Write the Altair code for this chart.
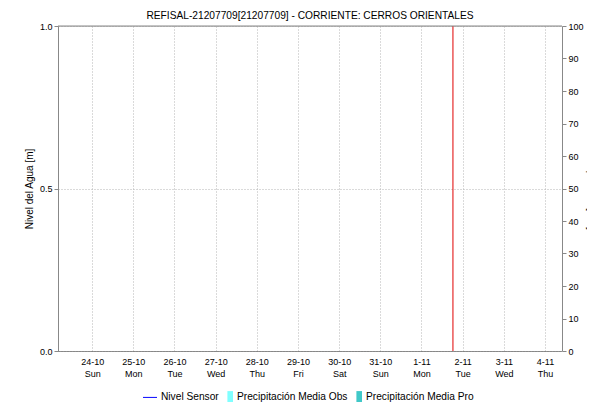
import altair as alt
import pandas as pd

# ---- data ----
title_text = "REFISAL-21207709[21207709] - CORRIENTE: CERROS ORIENTALES"
x_start = "2021-10-23T07:00:00"
x_end = "2021-11-04T07:00:00"
nivel_dates = []          # no sensor readings in the window
nivel_values = []
precip_dates = []
precip_obs = []
precip_pro = []
now_marker = ["2021-11-01T18:20:00"]
series = ["Nivel Sensor", "Precipitación Media Obs", "Precipitación Media Pro"]
series_colors = ["#0000FF", "#80FFFF", "#40C8C8"]
series_shapes = ["M-1,-0.07H1V0.07H-1Z", "M0.2,-0.85H1V0.85H0.2Z", "M0.2,-0.85H1V0.85H0.2Z"]
left_ticks = [0.0, 0.5, 1.0]
right_ticks = list(range(0, 101, 10))

FONT = "Liberation Sans"
W, H = 504, 325
GRID = "#b4b4b4"

xscale = alt.Scale(domain=[x_start, x_end])
x_enc = alt.X(
    "t:T", scale=xscale, title=None,
    axis=alt.Axis(
        orient="bottom", tickCount={"interval": "day", "step": 1},
        labelExpr="[timeFormat(datum.value, '%-d-%m'), timeFormat(datum.value, '%a')]",
        labelFont=FONT, labelFontSize=9, labelColor="#000", labelLineHeight=12,
        labelPadding=6, grid=True, gridColor=GRID, gridDash=[1, 2],
        domainColor="#444", domainDash=[1, 1], ticks=False, labelFlush=False,
    ),
)

nivel_df = pd.DataFrame({"t": pd.Series(nivel_dates, dtype="object"),
                         "v": pd.Series(nivel_values, dtype="float")})
precip_df = pd.DataFrame({"t": pd.Series(precip_dates, dtype="object"),
                          "Precipitación Media Obs": pd.Series(precip_obs, dtype="float"),
                          "Precipitación Media Pro": pd.Series(precip_pro, dtype="float")})
now_df = pd.DataFrame({"t": now_marker})
legend_df = pd.DataFrame({"s": series})

nivel = alt.Chart(nivel_df).mark_line(color="#0000FF").encode(
    x=x_enc,
    y=alt.Y(
        "v:Q", scale=alt.Scale(domain=[0, 1]), title="Nivel del Agua [m]",
        axis=alt.Axis(
            orient="left", values=left_ticks, format=".1f", labelFont=FONT, labelFontSize=9,
            labelColor="#000", titleFont=FONT, titleFontSize=10, titleFontWeight="normal",
            titleColor="#000", titlePadding=5, grid=True, gridColor=GRID, gridDash=[1, 2],
            domainColor="#888", tickColor="#888", tickSize=4,
        ),
    ),
)

precip = alt.Chart(precip_df).transform_fold(
    ["Precipitación Media Obs", "Precipitación Media Pro"], as_=["serie", "mm"]
).mark_bar().encode(
    x=x_enc,
    y=alt.Y(
        "mm:Q", scale=alt.Scale(domain=[0, 100]), title="Precipitación [mm]",
        axis=alt.Axis(
            orient="right", values=right_ticks, labelFont=FONT, labelFontSize=9,
            labelColor="#000", titleFont=FONT, titleFontSize=10, titleFontWeight="normal",
            titleColor="#000", titlePadding=2, grid=False, domainColor="#888",
            tickColor="#888", tickSize=4,
        ),
    ),
    fill=alt.Fill("serie:N", scale=alt.Scale(domain=series[1:], range=series_colors[1:]),
                  legend=None),
)

now = alt.Chart(now_df).mark_rule(color="#E00000", strokeWidth=1).encode(x=x_enc)

frame_top = alt.Chart(now_df).mark_rule(color="#888888").encode(
    x=alt.value(0), x2=alt.value(W), y=alt.value(0))

leg = alt.Legend(orient="none", legendX=85, legendY=364, direction="horizontal", title=None,
                 labelFont=FONT, labelFontSize=10.2, labelColor="#000", padding=0,
                 symbolSize=196, symbolOpacity=1, symbolStrokeWidth=0,
                 columnPadding=0, labelOffset=4)

legend_layer = alt.Chart(legend_df).mark_point(filled=True, opacity=0).encode(
    x=alt.value(0), y=alt.value(0),
    color=alt.Color("s:N", scale=alt.Scale(domain=series, range=series_colors), legend=leg),
    shape=alt.Shape("s:N", scale=alt.Scale(domain=series, range=series_shapes), legend=leg),
)

chart = alt.layer(nivel, precip, now, frame_top, legend_layer).resolve_scale(
    y="independent"
).properties(
    width=W, height=H,
    title=alt.Title(title_text, font=FONT, fontSize=10.2, fontWeight="normal", color="#000",
                    anchor="middle", offset=1),
    autosize=alt.AutoSizeParams(type="none"),
    padding={"left": 50, "top": 18, "right": 25, "bottom": 56},
).configure_view(stroke=None).configure(background="white")

chart.save("out.html", embed_options={"renderer": "svg", "actions": False})
